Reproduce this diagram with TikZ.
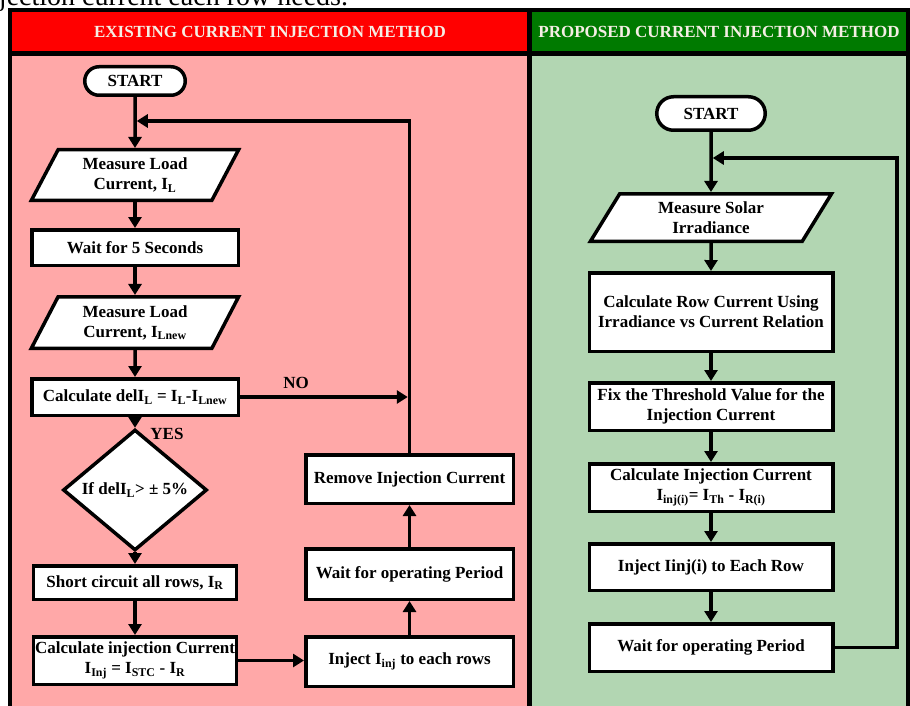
\documentclass[tikz,border=0pt]{standalone}
\usepackage{fontspec}
\setmainfont{Liberation Serif}
\usepackage{tikz}
\usetikzlibrary{shapes.geometric,shapes.misc,arrows.meta}

\definecolor{hdred}{RGB}{255,0,0}
\definecolor{hdgreen}{RGB}{0,122,0}
\definecolor{pnlpink}{RGB}{255,168,168}
\definecolor{pnlgreen}{RGB}{178,214,178}
\definecolor{hdtext}{RGB}{245,238,228}

\tikzset{
  blk/.style={draw=black, line width=3.5pt, fill=white, font=\fontsize{17}{20}\selectfont\bfseries, align=center, inner sep=1pt},
  startbox/.style={blk, rounded rectangle},
  procbox/.style={blk, rectangle},
  iobox/.style={blk, trapezium, trapezium left angle=63, trapezium right angle=117, trapezium stretches=true},
  decbox/.style={blk, diamond},
  flow/.style={line width=3.5pt, -{Triangle[length=11pt,width=13pt]}},
  lbl/.style={font=\fontsize{17}{20}\selectfont\bfseries, inner sep=0pt},
  hdlbl/.style={lbl, text=hdtext},
}

\begin{document}
\begin{tikzpicture}[x=1pt,y=1pt,yscale=-1,xscale=1]
\useasboundingbox (0,0) rectangle (910,706);

% Text Node (cut caption)
\node [anchor=base west, inner sep=0pt, font=\fontsize{28}{32}\selectfont] (capt) at (-23,6) {injection current each row needs.};

%Shape: Frame and panels
\fill [black] (8,8) rectangle (910,706);
\fill [hdred] (12,12) rectangle (527,51);
\fill [hdgreen] (532,12) rectangle (906,51);
\fill [pnlpink] (12,56) rectangle (527,706);
\fill [pnlgreen] (532,56) rectangle (906,706);

% Text Node
\node [hdlbl] (hdL) at (270,32) {EXISTING CURRENT INJECTION METHOD};
% Text Node
\node [hdlbl] (hdR) at (719,32) {PROPOSED CURRENT INJECTION METHOD};

%Left flow chart
\node [startbox, minimum width=102.5, minimum height=28.5] (startL) at (135,81) {START};
\node [iobox, minimum width=207.5, minimum height=50.5] (measL1) at (135,175) {Measure Load\\Current, I\textsubscript{L}};
\node [procbox, minimum width=206.5, minimum height=35.5] (waitL) at (135,247.5) {Wait for 5 Seconds};
\node [iobox, minimum width=207.5, minimum height=51.5] (measL2) at (135,322.5) {Measure Load\\Current, I\textsubscript{Lnew}};
\node [procbox, minimum width=206.5, minimum height=36.5] (delL) at (135,397) {Calculate delI\textsubscript{L} = I\textsubscript{L}-I\textsubscript{Lnew}};
\node [decbox, minimum width=144, minimum height=80, inner sep=0pt] (ifL) at (135,490) {If delI\textsubscript{L}> ± 5\%};
\node [procbox, minimum width=203, minimum height=33.5] (shortL) at (135,582.5) {Short circuit all rows, I\textsubscript{R}};
\node [procbox, minimum width=203, minimum height=47.5] (calcL) at (135,660.5) {Calculate injection Current\\I\textsubscript{Inj} = I\textsubscript{STC} - I\textsubscript{R}};
\node [procbox, minimum width=207.5, minimum height=49.5] (injL) at (409.5,661.5) {Inject I\textsubscript{inj} to each rows};
\node [procbox, minimum width=207.5, minimum height=50.5] (waitopL) at (409.5,574) {Wait for operating Period};
\node [procbox, minimum width=207.5, minimum height=48.5] (remL) at (409.5,479) {Remove Injection Current};
\node [lbl] (yesL) at (167,434) {YES};
\node [lbl] (noL) at (296,383) {NO};
\coordinate (jL) at (136.75,121);

%Straight Lines
\draw [flow] (startL) -- (measL1);
\draw [flow] (measL1) -- (waitL);
\draw [flow] (waitL) -- (measL2);
\draw [flow] (measL2) -- (delL);
\draw [flow] (delL) -- (ifL);
\draw [flow] (ifL) -- (shortL);
\draw [flow] (shortL) -- (calcL);
\draw [flow] (calcL.east) -- (calcL.east -| injL.west);
\draw [flow] (injL) -- (waitopL);
\draw [flow] (waitopL) -- (remL);
\draw [flow] (remL.north) |- (jL);
\draw [flow, shorten >=1.75pt] (delL.east) -- (delL.east -| remL.north);

%Right flow chart
\node [startbox, minimum width=110.5, minimum height=33.5] (startR) at (711,113.5) {START};
\node [iobox, minimum width=241.5, minimum height=47.5] (measR) at (711,217.5) {Measure Solar\\Irradiance};
\node [procbox, minimum width=243.5, minimum height=78.5] (rowR) at (711,312) {Calculate Row Current Using\\Irradiance vs Current Relation};
\node [procbox, minimum width=243.5, minimum height=47.5] (fixR) at (711,406.5) {Fix the Threshold Value for the\\Injection Current};
\node [procbox, minimum width=243.5, minimum height=47.5] (injcR) at (711,487.5) {Calculate Injection Current\\I\textsubscript{inj(i)}= I\textsubscript{Th} - I\textsubscript{R(i)}};
\node [procbox, minimum width=243.5, minimum height=46.5] (injR) at (711,567) {Inject Iinj(i) to Each Row};
\node [procbox, minimum width=243.5, minimum height=47.5] (waitR) at (711,647.5) {Wait for operating Period};
\coordinate (cR) at (897,158);
\coordinate (jR) at (712.75,158);

%Straight Lines
\draw [flow] (startR) -- (measR);
\draw [flow] (measR) -- (rowR);
\draw [flow] (rowR) -- (fixR);
\draw [flow] (fixR) -- (injcR);
\draw [flow] (injcR) -- (injR);
\draw [flow] (injR) -- (waitR);
\draw [flow] (waitR.east) -| (cR) -- (jR);

\end{tikzpicture}
\end{document}
